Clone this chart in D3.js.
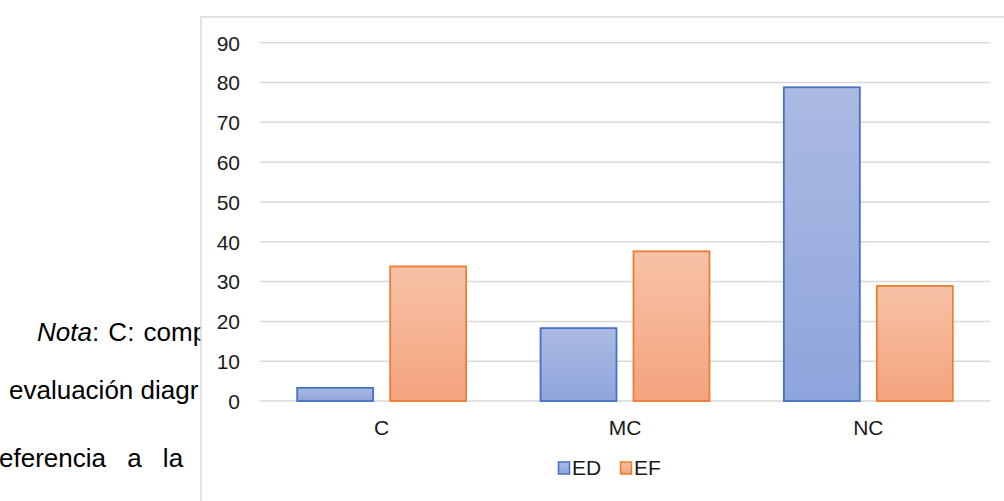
<!DOCTYPE html>
<html><head><meta charset="utf-8">
<script src="https://cdn.jsdelivr.net/npm/d3@7"></script>
<style>body{margin:0;background:#fff}svg{display:block}</style>
</head><body>
<svg id="c" width="1004" height="501"></svg>
<script>
const categories = ["C", "MC", "NC"];
const seriesNames = ["ED", "EF"];
const edValues = [3.3, 18.3, 78.8];
const efValues = [33.8, 37.6, 28.9];
const yTicks = [0, 10, 20, 30, 40, 50, 60, 70, 80, 90];
const noteLines = [
  [{t: "Nota", i: true}, {t: ": C: comp", i: false}],
  [{t: "evaluación diagr", i: false}],
  [{t: "eferencia a la", i: false}]
];

(function () {
const svg = d3.select("#c");
const font = "'Liberation Sans', Arial, sans-serif";

// background text (partially covered by chart box)
const noteLayout = [{x: 37, y: 341, ws: 2}, {x: 9, y: 399, ws: 0}, {x: -1, y: 467, ws: 14}];
noteLines.forEach((parts, k) => {
  const L = noteLayout[k];
  const t = svg.append("text").attr("x", L.x).attr("y", L.y).attr("word-spacing", L.ws)
    .attr("font-family", font).attr("font-size", 26).attr("fill", "#000");
  parts.forEach(p => t.append("tspan").attr("font-style", p.i ? "italic" : "normal").text(p.t));
});

// chart box
svg.append("rect").attr("x", 201).attr("y", 17).attr("width", 820).attr("height", 500)
  .attr("fill", "#fff").attr("stroke", "#d9d9d9").attr("stroke-width", 1.5);

const defs = svg.append("defs");
const gradSpec = [["gED", "#abbae2", "#8ea5dc"], ["gEF", "#f7c2a7", "#f4a37d"]];
gradSpec.forEach(([id, a, b]) => {
  const g = defs.append("linearGradient").attr("id", id).attr("x1", 0).attr("y1", 0).attr("x2", 0).attr("y2", 1);
  g.append("stop").attr("offset", 0).attr("stop-color", a);
  g.append("stop").attr("offset", 1).attr("stop-color", b);
});

const pLeft = 260, pRight = 990, pTop = 42.7, pBottom = 401;
const x0 = d3.scaleBand().domain(categories).range([pLeft, pRight]).padding(0);
const x1 = d3.scaleBand().domain(seriesNames).range([0, x0.bandwidth()]).paddingInner(0.183).paddingOuter(0.4);
const y = d3.scaleLinear().domain([0, 90]).range([pBottom, pTop]);

// gridlines
svg.append("g").selectAll("line").data(yTicks).join("line")
  .attr("x1", pLeft).attr("x2", pRight)
  .attr("y1", d => y(d)).attr("y2", d => y(d))
  .attr("stroke", "#d9d9d9").attr("stroke-width", 1.5);

// y axis labels
const yAxis = d3.axisLeft(y).tickValues(yTicks).tickSize(0).tickPadding(0);
const ya = svg.append("g").attr("transform", "translate(240,0)").call(yAxis);
ya.select(".domain").remove();
ya.selectAll("text").attr("font-family", font).attr("font-size", 21).attr("fill", "#1a1a1a").attr("dy", "0.35em");

// x axis labels
const xAxis = d3.axisBottom(x0).tickSize(0).tickPadding(0);
const xa = svg.append("g").attr("transform", "translate(0,428)").call(xAxis);
xa.select(".domain").remove();
xa.selectAll("text").attr("font-family", font).attr("font-size", 21).attr("fill", "#1a1a1a").attr("dy", "0.35em");

const colors = {ED: {fill: "url(#gED)", stroke: "#4472c4"}, EF: {fill: "url(#gEF)", stroke: "#ed7d31"}};
const data = categories.map((c, i) => ({c, vals: [{s: "ED", v: edValues[i]}, {s: "EF", v: efValues[i]}]}));

svg.append("g").selectAll("g").data(data).join("g")
  .attr("transform", d => `translate(${x0(d.c)},0)`)
  .selectAll("rect").data(d => d.vals).join("rect")
  .attr("x", d => x1(d.s)).attr("width", x1.bandwidth())
  .attr("y", d => y(d.v)).attr("height", d => y(0) - y(d.v))
  .attr("fill", d => colors[d.s].fill).attr("stroke", d => colors[d.s].stroke).attr("stroke-width", 1.8);

// legend
const legend = svg.append("g").attr("transform", "translate(558,468)");
const lx = [0, 62];
seriesNames.forEach((s, i) => {
  const g = legend.append("g").attr("transform", `translate(${lx[i]},0)`);
  g.append("rect").attr("x", 0.5).attr("y", -6).attr("width", 11).attr("height", 12)
    .attr("fill", colors[s].fill).attr("stroke", colors[s].stroke).attr("stroke-width", 1.5);
  g.append("text").attr("x", 14).attr("y", 0).attr("dy", "0.35em")
    .attr("font-family", font).attr("font-size", 21).attr("fill", "#1a1a1a").text(s);
});
})();
</script>
</body></html>
